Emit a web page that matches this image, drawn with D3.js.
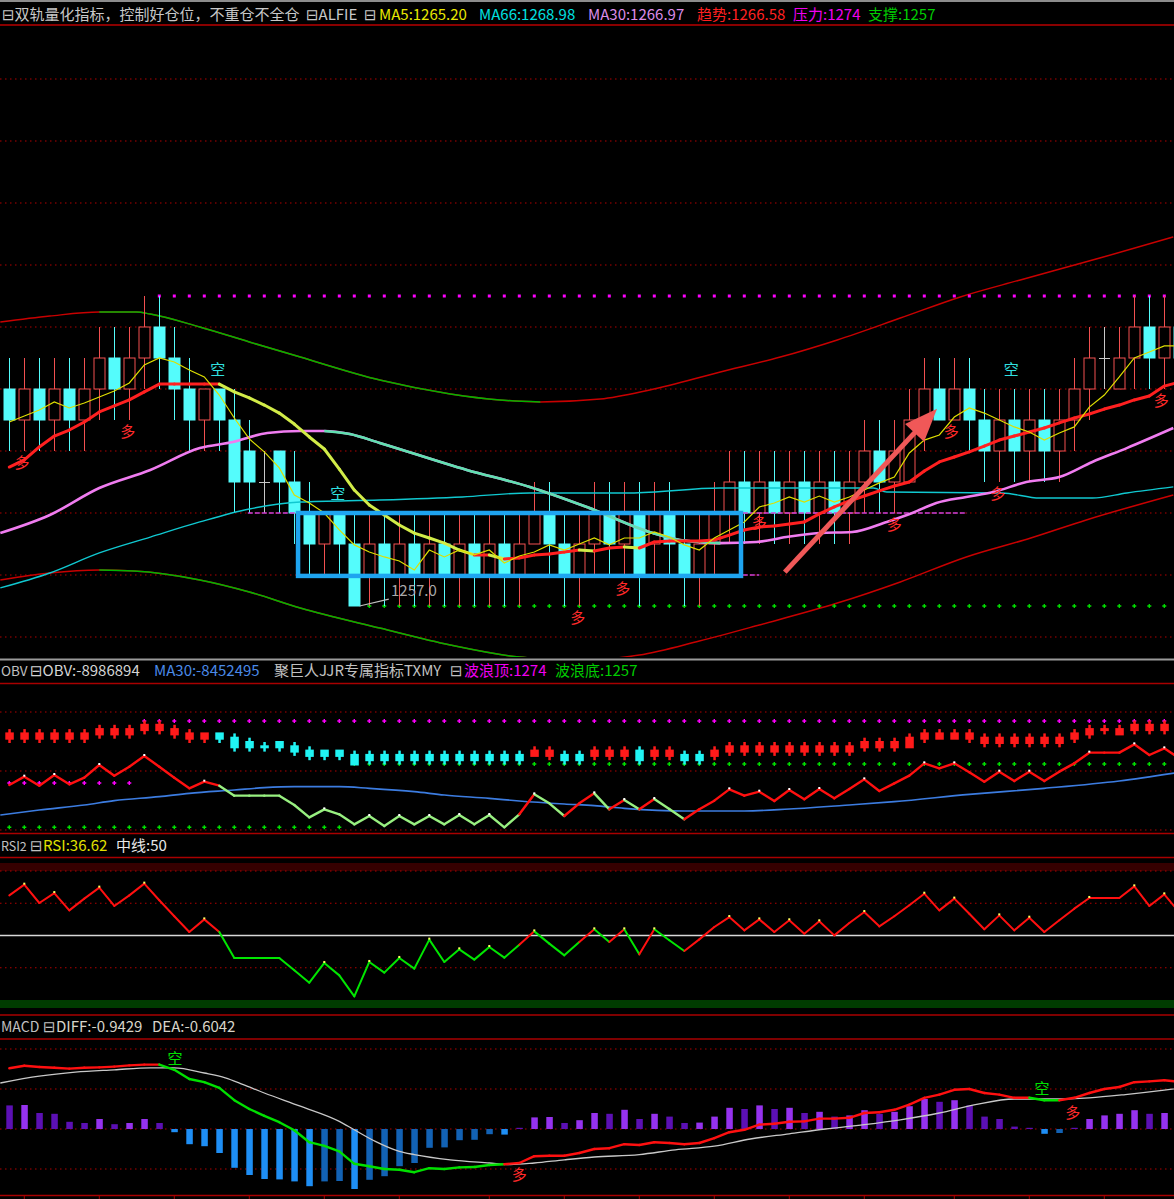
<!DOCTYPE html>
<html>
<head>
<meta charset="utf-8">
<title>双轨量化指标</title>
<script src="https://cdn.jsdelivr.net/npm/d3@7/dist/d3.min.js"></script>
<style>
  body { margin: 0; background: #000; overflow: hidden; }
  svg { display: block; }
  text { font-family: "Noto Sans CJK SC", "Noto Sans", "DejaVu Sans", sans-serif; }
</style>
</head>
<body>
<script>
// ---------- data (candle index 0..78) ----------
const openPrice = [
  1268.9, 1267.2, 1268.9, 1267.2, 1268.9, 1267.2, 1268.9, 1270.6, 1268.9, 1270.6,
  1272.3, 1270.6, 1268.9, 1267.2, 1268.9, 1267.2, 1265.5, 1263.8, 1265.5, 1263.8,
  1262.1, 1260.4, 1262.1, 1260.4, 1258.7, 1260.4, 1258.7, 1260.4, 1258.7, 1260.4,
  1258.7, 1260.4, 1258.7, 1260.4, 1258.7, 1260.4, 1262.1, 1260.4, 1258.7, 1260.4,
  1262.1, 1260.4, 1262.1, 1260.4, 1262.1, 1260.4, 1258.7, 1260.4, 1262.1, 1263.8,
  1262.1, 1263.8, 1262.1, 1263.8, 1262.1, 1263.8, 1262.1, 1263.8, 1265.5, 1263.8,
  1263.8, 1267.2, 1268.9, 1267.2, 1268.9, 1267.2, 1265.5, 1267.2, 1265.5, 1267.2,
  1265.5, 1267.2, 1268.9, 1270.6, 1268.9, 1270.6, 1272.3, 1270.6, 1272.3
];
const closePrice = [
  1267.2, 1268.9, 1267.2, 1268.9, 1267.2, 1268.9, 1270.6, 1268.9, 1270.6, 1272.3,
  1270.6, 1268.9, 1267.2, 1268.9, 1267.2, 1263.8, 1263.8, 1263.8, 1263.8, 1262.1,
  1260.4, 1262.1, 1260.4, 1257.0, 1260.4, 1258.7, 1260.4, 1258.7, 1260.4, 1258.7,
  1260.4, 1258.7, 1260.4, 1258.7, 1260.4, 1262.1, 1260.4, 1258.7, 1260.4, 1262.1,
  1260.4, 1262.1, 1258.7, 1262.1, 1260.4, 1258.7, 1260.4, 1262.1, 1263.8, 1262.1,
  1263.8, 1262.1, 1263.8, 1262.1, 1263.8, 1262.1, 1263.8, 1265.5, 1263.8, 1265.5,
  1267.2, 1268.9, 1267.2, 1268.9, 1267.2, 1265.5, 1267.2, 1265.5, 1267.2, 1265.5,
  1267.2, 1268.9, 1270.6, 1270.6, 1270.6, 1272.3, 1270.6, 1272.3, 1270.6
];
const highPrice = [
  1270.6, 1270.6, 1270.6, 1270.6, 1270.6, 1270.6, 1272.3, 1272.3, 1272.3, 1274.0,
  1274.0, 1272.3, 1270.6, 1268.9, 1268.9, 1268.9, 1267.2, 1265.5, 1265.5, 1265.5,
  1263.8, 1262.1, 1262.1, 1262.1, 1262.1, 1262.1, 1262.1, 1262.1, 1262.1, 1262.1,
  1262.1, 1262.1, 1262.1, 1262.1, 1262.1, 1263.8, 1263.8, 1262.1, 1262.1, 1263.8,
  1263.8, 1263.8, 1263.8, 1263.8, 1263.8, 1262.1, 1262.1, 1263.8, 1265.5, 1265.5,
  1265.5, 1265.5, 1265.5, 1265.5, 1265.5, 1265.5, 1265.5, 1267.2, 1267.2, 1267.2,
  1268.9, 1270.6, 1270.6, 1270.6, 1270.6, 1268.9, 1268.9, 1268.9, 1268.9, 1268.9,
  1268.9, 1270.6, 1272.3, 1272.3, 1272.3, 1274.0, 1274.0, 1274.0, 1274.0
];
const lowPrice = [
  1265.5, 1265.5, 1265.5, 1265.5, 1265.5, 1265.5, 1267.2, 1267.2, 1267.2, 1268.9,
  1268.9, 1267.2, 1265.5, 1265.5, 1265.5, 1262.1, 1262.1, 1262.1, 1262.1, 1260.4,
  1258.7, 1258.7, 1258.7, 1257.0, 1257.0, 1257.0, 1257.0, 1257.0, 1257.0, 1257.0,
  1257.0, 1257.0, 1257.0, 1257.0, 1257.0, 1260.4, 1258.7, 1257.0, 1257.0, 1258.7,
  1258.7, 1258.7, 1257.0, 1258.7, 1258.7, 1257.0, 1257.0, 1258.7, 1260.4, 1260.4,
  1260.4, 1260.4, 1260.4, 1260.4, 1260.4, 1260.4, 1260.4, 1262.1, 1262.1, 1262.1,
  1263.8, 1265.5, 1267.2, 1267.2, 1265.5, 1263.8, 1263.8, 1263.8, 1263.8, 1263.8,
  1263.8, 1265.5, 1267.2, 1268.9, 1268.9, 1268.9, 1268.9, 1268.9, 1268.9
];

// thick trend line (趋势) and MA5, one value per candle
const trendLine = [
  1264.62, 1265.01, 1265.72, 1266.32, 1266.65, 1267.09, 1267.64, 1267.97, 1268.30, 1268.74,
  1269.17, 1269.17, 1269.17, 1269.17, 1269.17, 1268.74, 1268.41, 1268.02, 1267.58, 1266.98,
  1266.27, 1265.61, 1264.51, 1263.36, 1262.54, 1261.99, 1261.44, 1261.00, 1260.73, 1260.45,
  1260.07, 1259.80, 1259.80, 1259.58, 1259.63, 1259.80, 1259.85, 1259.96, 1260.07, 1260.02,
  1260.18, 1260.24, 1260.18, 1260.51, 1260.56, 1260.56, 1260.56, 1260.62, 1260.89, 1261.17,
  1261.33, 1261.39, 1261.50, 1261.61, 1262.05, 1262.43, 1262.76, 1263.03, 1263.31, 1263.58,
  1263.80, 1264.40, 1264.90, 1265.17, 1265.45, 1265.77, 1266.10, 1266.32, 1266.54, 1266.76,
  1267.04, 1267.31, 1267.53, 1267.80, 1268.02, 1268.30, 1268.52, 1269.06, 1269.28
];
const ma5 = [
  1267.09, 1267.42, 1267.75, 1268.19, 1267.86, 1268.13, 1268.46, 1268.79, 1269.23, 1270.22,
  1270.60, 1270.38, 1269.94, 1269.56, 1268.57, 1267.31, 1266.16, 1265.45, 1264.57, 1263.09,
  1262.65, 1262.10, 1261.17, 1260.35, 1259.96, 1259.69, 1259.47, 1258.97, 1260.07, 1259.69,
  1260.07, 1259.80, 1260.07, 1259.36, 1259.74, 1259.96, 1260.35, 1260.07, 1260.40, 1260.73,
  1260.35, 1260.73, 1260.73, 1261.06, 1260.78, 1260.35, 1260.07, 1260.73, 1261.17, 1261.61,
  1262.43, 1262.65, 1262.98, 1262.70, 1263.03, 1262.70, 1262.98, 1263.36, 1263.75, 1264.07,
  1265.39, 1266.10, 1266.38, 1267.36, 1267.86, 1267.58, 1267.20, 1266.82, 1266.54, 1266.10,
  1266.49, 1266.82, 1267.91, 1268.57, 1269.56, 1270.60, 1270.93, 1271.26, 1271.26
];

// smooth lines, read at a few candle positions: [index, price]
const upperBand = [[-0.6,1272.57],[2.7,1272.90],[6,1273.12],[8.5,1273.12],[9.4,1273.01],[12.7,1272.30],[16,1271.48],[19.4,1270.65],[24.7,1269.39],[29.4,1268.63],[32.7,1268.30],[35.4,1268.19],[39.4,1268.35],[42.7,1268.85],[47.4,1269.83],[51.4,1270.65],[55.2,1271.59],[59.4,1272.79],[63.4,1273.95],[67.4,1274.88],[72.7,1276.08],[77.6,1277.24]];
const lowerBand = [[-0.6,1258.43],[2.7,1258.81],[6,1258.97],[8.3,1258.92],[12.7,1258.43],[16,1257.77],[19.4,1256.89],[24.7,1255.79],[29.4,1254.86],[34,1254.20],[38,1254.04],[42,1254.31],[46,1255.08],[50,1255.96],[55.2,1257.16],[59.4,1258.32],[63.8,1259.69],[68.1,1260.73],[71.8,1261.72],[77.6,1263.09]];
const ma66 = [[-0.6,1257.99],[2.7,1258.81],[6,1259.91],[9.4,1260.78],[12.7,1261.61],[16,1262.32],[19.4,1262.70],[24.7,1262.81],[30.2,1262.98],[34.7,1263.20],[41.4,1263.20],[47.4,1263.47],[57.6,1263.47],[58.5,1263.25],[66.2,1263.20],[68.7,1262.92],[72.2,1262.92],[74.5,1263.20],[77.6,1263.53]];
const ma30 = [[-0.6,1261.00],[2.7,1261.99],[6,1263.47],[9.4,1264.46],[12.7,1265.66],[14.9,1265.99],[17.2,1266.49],[19.4,1266.60],[21,1266.60],[22.7,1266.43],[24.7,1265.94],[30.5,1264.46],[34.7,1263.53],[38.5,1262.43],[42.9,1261.00],[44.7,1260.62],[47.4,1260.45],[49.8,1260.51],[51.8,1260.78],[54,1261.00],[56.2,1261.06],[58.5,1261.61],[60.2,1262.10],[61.8,1262.65],[63.8,1262.98],[65.6,1263.25],[67.8,1263.80],[70,1264.07],[72.2,1264.90],[74.5,1265.66],[77.6,1266.76]];
const bandGreenSpan = [6, 38];
const ma30FallSpan = [21, 47.4];

const gridPrices = [1255.3, 1258.7, 1262.1, 1265.5, 1268.9, 1272.3, 1275.7, 1279.1, 1282.5, 1285.9];
const pressure = 1274, support = 1257;
const pressureFrom = 10, supportFrom = 24, dotsTo = 77;
const levelSegments = [[15.9, 19.05, 1262.1], [48.9, 63.85, 1262.1], [48.9, 50, 1258.7]];

const longSignals = [[0.85,1264.90],[7.9,1266.65],[37.9,1256.40],[40.9,1258.04],[50,1261.66],[59,1261.55],[62.8,1266.60],[65.9,1263.20],[76.8,1268.30]];
const shortSignals = [[13.9,1270.05],[21.9,1263.25],[66.8,1270.05]];
const lowLabel = { text: "1257.0", from: [23.35, 1257.0], to: [25.3, 1257.38], at: [25.45, 1257.55] };
const boxRange = { i0: 19.25, i1: 48.78, p0: 1258.65, p1: 1262.1 };
const arrowFrom = [51.7, 1258.86], arrowTo = [61.85, 1267.82];

// OBV panel (万)
const obv = [
  -979, -954, -981, -949, -977, -957, -919, -951, -924, -892,
  -924, -957, -989, -969, -981, -1011, -1011, -1011, -1011, -1039,
  -1076, -1052, -1067, -1097, -1072, -1102, -1072, -1097, -1072, -1097,
  -1069, -1097, -1069, -1106, -1067, -1007, -1034, -1072, -1034, -1004,
  -1052, -1024, -1052, -1021, -1051, -1082, -1052, -1026, -992, -1011,
  -999, -1027, -994, -1022, -991, -1019, -991, -962, -997, -974,
  -951, -914, -929, -914, -941, -969, -939, -967, -939, -967,
  -939, -914, -882, -882, -882, -857, -889, -869, -899
];
const obvMa30 = [[-0.6,-1069],[2,-1054],[5,-1039],[7,-1026],[10,-1014],[12,-1004],[15,-994],[17,-987],[19,-984],[22,-984],[24,-989],[27,-999],[29,-1009],[32,-1019],[34,-1027],[37,-1036],[39,-1041],[41,-1049],[45,-1057],[49,-1057],[52,-1051],[56,-1039],[59,-1029],[64,-1007],[69,-989],[74,-967],[78,-941]];
const obvGreenSpans = [[14,34],[35,37],[39,40],[41,42],[43,45]];
const obvGrid = [-760, -937, -1114];
// TXMY: 1 = red, 0 = cyan
const txmyTrend = [
  1,1,1,1,1,1,1,1,1,1, 1,1,1,1,0,0,0,0,0,0,
  0,0,0,0,0,0,0,0,0,0, 0,0,0,0,0,1,1,0,0,1,
  1,1,0,1,1,0,0,1,1,1, 1,1,1,1,1,1,1,1,1,1,
  1,1,1,1,1,1,1,1,1,1, 1,1,1,1,1,1,1,1,1
];
const waveTop = { early: 1249.5, earlyTo: 8, late: 1274 };
const waveBottom = { early: 1232, earlyTo: 22, late: 1257 };

// RSI panel
const rsi = [
  81.1, 89.4, 75.2, 82.9, 69.5, 78.6, 87.1, 72.9, 81.1, 90.2,
  77.3, 64.9, 52.7, 62.5, 52.7, 32.6, 32.6, 32.6, 32.6, 23.0,
  13.4, 28.7, 19.1, 2.8, 29.5, 21.2, 32.6, 24.3, 46.8, 29.5,
  39.3, 31.3, 41.1, 32.8, 42.9, 53.2, 43.7, 34.6, 45.0, 54.8,
  45.0, 54.8, 35.4, 54.8, 46.3, 38.0, 47.0, 56.6, 64.3, 54.0,
  62.5, 52.7, 61.8, 51.4, 61.0, 50.1, 59.7, 68.2, 57.1, 64.9,
  73.4, 82.4, 69.5, 78.6, 66.9, 54.8, 65.6, 54.0, 63.8, 52.7,
  61.8, 70.8, 79.1, 79.1, 79.1, 88.1, 72.9, 81.9, 68.0
];
const rsiGreenSpans = [[14,34],[35,38],[39,40],[41,42],[43,45]];
const rsiGrid = [100, 75, 25];

// MACD panel
const diff = [
  1.52, 1.58, 1.55, 1.53, 1.51, 1.53, 1.54, 1.56, 1.59, 1.61,
  1.61, 1.48, 1.25, 1.17, 1.03, 0.72, 0.50, 0.33, 0.17, -0.03,
  -0.33, -0.42, -0.56, -0.87, -0.93, -1.00, -1.02, -1.08, -0.98, -1.00,
  -0.96, -0.95, -0.90, -0.88, -0.85, -0.68, -0.67, -0.67, -0.60, -0.50,
  -0.48, -0.38, -0.40, -0.33, -0.35, -0.38, -0.35, -0.23, -0.08, -0.02,
  0.11, 0.13, 0.18, 0.19, 0.26, 0.26, 0.28, 0.40, 0.42, 0.48,
  0.61, 0.78, 0.86, 0.98, 1.00, 0.90, 0.86, 0.78, 0.78, 0.72,
  0.72, 0.78, 0.90, 1.00, 1.05, 1.17, 1.19, 1.22, 1.18
];
const dea = [[-0.6,1.15],[2,1.32],[4.4,1.42],[7,1.48],[9.4,1.53],[11,1.53],[13,1.40],[14.4,1.28],[15.6,1.11],[17,0.90],[19.4,0.57],[22,0.19],[23,-0.02],[24.4,-0.31],[26,-0.56],[27,-0.64],[29.4,-0.77],[32,-0.85],[33.4,-0.89],[35,-0.85],[37,-0.77],[39,-0.70],[42,-0.64],[44.4,-0.52],[47,-0.43],[49.4,-0.25],[52,-0.12],[54.4,0.00],[57,0.11],[59.4,0.23],[62,0.40],[64.4,0.61],[67,0.75],[69.4,0.75],[72,0.78],[74.4,0.86],[77,0.97],[78.6,1.05]];
const macdHist = [
  0.59, 0.60, 0.40, 0.38, 0.18, 0.15, 0.25, 0.12, 0.15, 0.25,
  0.15, -0.08, -0.38, -0.43, -0.60, -0.97, -1.15, -1.25, -1.26, -1.31,
  -1.43, -1.31, -1.30, -1.50, -1.27, -1.18, -0.93, -0.85, -0.47, -0.46,
  -0.28, -0.27, -0.13, -0.14, 0.03, 0.29, 0.30, 0.15, 0.22, 0.40,
  0.38, 0.48, 0.25, 0.38, 0.31, 0.15, 0.16, 0.31, 0.53, 0.50,
  0.59, 0.50, 0.53, 0.40, 0.43, 0.31, 0.34, 0.47, 0.38, 0.43,
  0.57, 0.75, 0.68, 0.72, 0.59, 0.31, 0.25, 0.06, 0.03, -0.12,
  -0.10, 0.03, 0.25, 0.34, 0.38, 0.47, 0.38, 0.40, 0.40
];
const diffGreenSpans = [[10,33],[68,70]];
const macdGrid = [2, 1, 0, -1];
const macdShort = [[11.05,1.80],[68.85,1.05]];
const macdLong = [[34,-1.10],[70.9,0.43]];
const timeTicks = [1,6,11,16,21,26,32,37,42,47,52,57,63,68,73];

// header texts
const mainHeader = ["⊟双轨量化指标，控制好仓位，不重仓不全仓", "⊟ALFIE", "⊟", "MA5:1265.20", "MA66:1268.98", "MA30:1266.97", "趋势:1266.58", "压力:1274", "支撑:1257"];
const obvHeader = ["OBV", "⊟OBV:-8986894", "MA30:-8452495", "聚巨人JJR专属指标TXMY", "⊟", "波浪顶:1274", "波浪底:1257"];
const rsiHeader = ["RSI2", "⊟", "RSI:36.62", "中线:50"];
const macdHeader = ["MACD", "⊟", "DIFF:-0.9429", "DEA:-0.6042"];

// ---------- layout ----------
const W = 1174, H = 1199;
const CYAN = "#54fcfc", GRID = "#b00000";

const svg = d3.select("body").append("svg")
  .attr("width", W).attr("height", H)
  .style("background", "#000");
const defs = svg.append("defs");

function panel(id, y0, y1) {
  defs.append("clipPath").attr("id", id).append("rect")
    .attr("x", 0).attr("y", y0).attr("width", W).attr("height", y1 - y0);
  return svg.append("g").attr("clip-path", `url(#${id})`);
}

const x = d3.scaleLinear().domain([0, 78]).range([9.3, 1179.3]);
const yMain = d3.scaleLinear().domain([1257, 1274]).range([606, 296]);
const yTx = d3.scaleLinear().domain([1257, 1274]).range([764, 721]);
const yObv = d3.scaleLinear().domain([-1129, -589]).range([835, 655]);
const yRsi = d3.scaleLinear().domain([0, 100]).range([1000, 871]);
const yMacd = d3.scaleLinear().domain([-1, 2]).range([1169, 1049]);

const idx = d3.range(openPrice.length);

function hDotted(g, yy) {
  g.append("line").attr("x1", 0).attr("x2", W).attr("y1", yy).attr("y2", yy)
    .attr("stroke", GRID).attr("stroke-width", 1.2).attr("stroke-dasharray", "1.5,3.5");
}
function inSpans(i, spans) { return spans.some(([a, b]) => i >= a && i < b); }

function segments(g, vals, yS, colorOf, width) {
  const segs = d3.range(vals.length - 1).map((i) => ({ i, a: vals[i], b: vals[i + 1] }));
  g.append("g").selectAll("line").data(segs).join("line")
    .attr("x1", (d) => x(d.i)).attr("x2", (d) => x(d.i + 1))
    .attr("y1", (d) => yS(d.a)).attr("y2", (d) => yS(d.b))
    .attr("stroke", colorOf).attr("stroke-width", width).attr("stroke-linecap", "round");
}
function curve(g, pts, yS, color, width) {
  const line = d3.line().x((d) => x(d[0])).y((d) => yS(d[1])).curve(d3.curveMonotoneX);
  g.append("path").attr("d", line(pts)).attr("fill", "none")
    .attr("stroke", color).attr("stroke-width", width);
}
function peakDots(g, vals, yS, color) {
  const peaks = idx.filter((i) => i > 0 && i < vals.length - 1 && vals[i] > vals[i - 1] && vals[i] >= vals[i + 1]);
  g.append("g").selectAll("rect").data(peaks).join("rect")
    .attr("x", (i) => x(i) - 1).attr("y", (i) => yS(vals[i]) - 2)
    .attr("width", 2).attr("height", 2).attr("fill", color);
}

// ---------- frame ----------
const frame = svg.append("g");
[[1, "#8c8c8c", 2], [25, "#8a0000", 2], [659.5, "#9a9a9a", 2], [683.5, "#a80000", 1.5],
 [833.5, "#a80000", 1.5], [857.5, "#a80000", 1.5], [1015, "#a80000", 1.5],
 [1039, "#a80000", 1.5], [1195.5, "#a80000", 1.5]].forEach(([yy, c, w]) => {
  frame.append("line").attr("x1", 0).attr("x2", W).attr("y1", yy).attr("y2", yy)
    .attr("stroke", c).attr("stroke-width", w);
});

// each part: [x, colour, font size]
function header(parts, specs, baseline) {
  const t = svg.append("text").attr("y", baseline);
  parts.forEach((s, k) => t.append("tspan")
    .attr("x", specs[k][0]).attr("fill", specs[k][1]).attr("font-size", specs[k][2] || 15).text(s));
}
header(mainHeader,
  [[2, "#c8c8c8"], [306, "#c8c8c8"], [364, "#c8c8c8"], [379, "#e8e800"], [479, "#00e0e0"],
   [588, "#dc8ce8"], [697, "#ff2020"], [793, "#f000f0"], [868, "#00cc00"]], 19.5);
header(obvHeader,
  [[1, "#c0c0c0", 13.5], [30, "#d4d4d4"], [154, "#4a8ae8"], [274, "#c0c0c0"],
   [450, "#c0c0c0"], [464, "#f000f0"], [555, "#00cc00"]], 675.5);
header(rsiHeader, [[1, "#c0c0c0", 12.5], [30, "#c0c0c0"], [43, "#e0e000"], [116, "#e8e8e8"]], 851);
header(macdHeader, [[1, "#c0c0c0", 14], [43, "#c0c0c0"], [56, "#d8d4c8"], [152, "#d8d4c8"]], 1032);

// ---------- main panel ----------
const gMain = panel("c-main", 26, 657);
gridPrices.forEach((p) => hDotted(gMain, yMain(p)));

// channel bands
curve(gMain, upperBand, yMain, "#c80000", 1.5);
curve(gMain, upperBand.filter((d) => d[0] >= bandGreenSpan[0] && d[0] <= bandGreenSpan[1]), yMain, "#00b400", 1.5);
curve(gMain, lowerBand, yMain, "#c80000", 1.5);
curve(gMain, lowerBand.filter((d) => d[0] >= bandGreenSpan[0] && d[0] <= bandGreenSpan[1]), yMain, "#00b400", 1.5);

// pressure / support dots
const pDots = idx.filter((i) => i >= pressureFrom && i <= dotsTo);
gMain.append("g").selectAll("rect").data(pDots).join("rect")
  .attr("x", (i) => x(i) - 1.5).attr("y", yMain(pressure) - 1.5)
  .attr("width", 3).attr("height", 3).attr("fill", "#ff00ff");
const sDots = idx.filter((i) => i >= supportFrom && i <= dotsTo);
gMain.append("g").selectAll("path").data(sDots).join("path")
  .attr("d", (i) => `M${x(i) - 2},${yMain(support)}h4M${x(i)},${yMain(support) - 2}v4`)
  .attr("stroke", "#00e000").attr("stroke-width", 1.3);

// candles
const candle = gMain.append("g").selectAll("g").data(idx).join("g");
const candleColor = (i) => closePrice[i] > openPrice[i] ? "#f25050" : closePrice[i] < openPrice[i] ? CYAN : "#c8c8c8";
candle.append("line")
  .attr("x1", (i) => Math.round(x(i)) + 0.5).attr("x2", (i) => Math.round(x(i)) + 0.5)
  .attr("y1", (i) => yMain(highPrice[i])).attr("y2", (i) => yMain(lowPrice[i]))
  .attr("stroke", candleColor).attr("stroke-width", 1);
candle.append("rect")
  .attr("x", (i) => Math.round(x(i)) - 5)
  .attr("y", (i) => yMain(Math.max(openPrice[i], closePrice[i])))
  .attr("width", 11)
  .attr("height", (i) => Math.max(1, yMain(Math.min(openPrice[i], closePrice[i])) - yMain(Math.max(openPrice[i], closePrice[i]))))
  .attr("fill", (i) => closePrice[i] < openPrice[i] ? CYAN : closePrice[i] > openPrice[i] ? "#000" : "#c8c8c8")
  .attr("stroke", candleColor).attr("stroke-width", (i) => closePrice[i] === openPrice[i] ? 0 : 1);

// level segments
levelSegments.forEach(([a, b, p]) => {
  gMain.append("line").attr("x1", x(a)).attr("x2", x(b)).attr("y1", yMain(p)).attr("y2", yMain(p))
    .attr("stroke", "#d040d8").attr("stroke-width", 1.5).attr("stroke-dasharray", "5,2");
});

// moving averages
curve(gMain, ma66, yMain, "#10c8d0", 1.4);
curve(gMain, ma30, yMain, "#f07cf0", 2.6);
curve(gMain, ma30.filter((d) => d[0] >= ma30FallSpan[0] && d[0] <= ma30FallSpan[1]), yMain, "#60e0b0", 2.6);
segments(gMain, trendLine, yMain, (d) => d.b >= d.a ? "#ff2020" : "#d2ec48", 3);
gMain.append("path")
  .attr("d", d3.line().x((i) => x(i)).y((i) => yMain(ma5[i]))(idx))
  .attr("fill", "none").attr("stroke", "#dede00").attr("stroke-width", 1.2);

// low label
gMain.append("line").attr("x1", x(lowLabel.from[0])).attr("y1", yMain(lowLabel.from[1]))
  .attr("x2", x(lowLabel.to[0])).attr("y2", yMain(lowLabel.to[1]))
  .attr("stroke", "#c0c0c0").attr("stroke-width", 1.2);
gMain.append("text").attr("x", x(lowLabel.at[0])).attr("y", yMain(lowLabel.at[1]))
  .attr("font-size", 15).attr("fill", "#a8a8a8").text(lowLabel.text);

// signals
gMain.append("g").selectAll("text").data(longSignals).join("text")
  .attr("x", (d) => x(d[0])).attr("y", (d) => yMain(d[1]))
  .attr("text-anchor", "middle").attr("dominant-baseline", "central")
  .attr("font-size", 15).attr("fill", "#ff2a2a").text("多");
gMain.append("g").selectAll("text").data(shortSignals).join("text")
  .attr("x", (d) => x(d[0])).attr("y", (d) => yMain(d[1]))
  .attr("text-anchor", "middle").attr("dominant-baseline", "central")
  .attr("font-size", 15).attr("fill", "#30e0e0").text("空");

// box and arrow annotations
gMain.append("rect")
  .attr("x", x(boxRange.i0)).attr("y", yMain(boxRange.p1))
  .attr("width", x(boxRange.i1) - x(boxRange.i0)).attr("height", yMain(boxRange.p0) - yMain(boxRange.p1))
  .attr("fill", "none").attr("stroke", "#1ea4f0").attr("stroke-width", 4.5);
{
  const x0 = x(arrowFrom[0]), y0 = yMain(arrowFrom[1]), x1 = x(arrowTo[0]), y1 = yMain(arrowTo[1]);
  const len = Math.hypot(x1 - x0, y1 - y0), ux = (x1 - x0) / len, uy = (y1 - y0) / len;
  const hl = 33, hw = 13, bx = x1 - ux * hl, by = y1 - uy * hl;
  gMain.append("line").attr("x1", x0).attr("y1", y0).attr("x2", bx + ux * 4).attr("y2", by + uy * 4)
    .attr("stroke", "#f05858").attr("stroke-width", 5);
  gMain.append("path")
    .attr("d", `M${x1},${y1}L${bx - uy * hw},${by + ux * hw}L${bx + uy * hw},${by - ux * hw}Z`)
    .attr("fill", "#f05858");
}

// ---------- OBV / TXMY panel ----------
const gObv = panel("c-obv", 685, 833);
obvGrid.forEach((v) => hDotted(gObv, yObv(v)));

const topVal = (i) => i <= waveTop.earlyTo ? waveTop.early : waveTop.late;
const botVal = (i) => i <= waveBottom.earlyTo ? waveBottom.early : waveBottom.late;
const crossDot = (g, arr, yf, color) => g.append("g").selectAll("path").data(arr).join("path")
  .attr("d", (i) => `M${x(i) - 2},${yf(i)}h4M${x(i)},${yf(i) - 2}v4`)
  .attr("stroke", color).attr("stroke-width", 1.4);
crossDot(gObv, idx.slice(0, 78), (i) => yTx(topVal(i)), "#ff00ff");
crossDot(gObv, idx.slice(0, 78), (i) => yTx(botVal(i)), "#00e000");

const glyph = gObv.append("g").selectAll("g").data(idx).join("g")
  .attr("fill", (i) => txmyTrend[i] ? "#ff1a1a" : "#20f4f4");
glyph.append("rect")
  .attr("x", (i) => x(i) - 1).attr("width", 2.5)
  .attr("y", (i) => yTx(highPrice[i]) - 0.5).attr("height", (i) => yTx(lowPrice[i]) - yTx(highPrice[i]) + 1);
glyph.append("rect")
  .attr("x", (i) => x(i) - 4).attr("width", 8.5)
  .attr("y", (i) => yTx(Math.max(openPrice[i], closePrice[i])) - 1.5)
  .attr("height", (i) => Math.max(2.5, yTx(Math.min(openPrice[i], closePrice[i])) - yTx(Math.max(openPrice[i], closePrice[i])) + 3));

curve(gObv, obvMa30, yObv, "#3c7ce0", 1.6);
segments(gObv, obv, yObv, (d) => inSpans(d.i, obvGreenSpans) ? "#98f080" : "#ff1010", 2.4);
peakDots(gObv, obv, yObv, "#ffffff");

// ---------- RSI panel ----------
const gRsi = panel("c-rsi", 858, 1012);
gRsi.append("rect").attr("x", 0).attr("width", W).attr("y", 863).attr("height", yRsi(100) - 863).attr("fill", "#360000");
gRsi.append("rect").attr("x", 0).attr("width", W).attr("y", yRsi(0)).attr("height", 8).attr("fill", "#003c00");
rsiGrid.forEach((v) => hDotted(gRsi, yRsi(v)));
gRsi.append("line").attr("x1", 0).attr("x2", W).attr("y1", yRsi(50)).attr("y2", yRsi(50))
  .attr("stroke", "#d8d8d8").attr("stroke-width", 1.5);
segments(gRsi, rsi, yRsi, (d) => inSpans(d.i, rsiGreenSpans) ? "#00e600" : "#ff1010", 2);
peakDots(gRsi, rsi, yRsi, "#ffff60");

// ---------- MACD panel ----------
const gMacd = panel("c-macd", 1040, 1195);
macdGrid.forEach((v) => hDotted(gMacd, yMacd(v)));

const histColor = (i) => {
  const v = macdHist[i], p = i > 0 ? macdHist[i - 1] : null;
  let light;
  if (p === null) light = false;
  else if ((v >= 0) === (p >= 0)) light = Math.abs(v) >= Math.abs(p);
  else light = v < 0;
  if (v >= 0) return light ? "#9632ee" : "#5c10b4";
  return light ? "#1e8ef4" : "#1262b4";
};
gMacd.append("g").selectAll("rect").data(idx).join("rect")
  .attr("x", (i) => x(i) - 3).attr("width", 6.5)
  .attr("y", (i) => Math.min(yMacd(0), yMacd(macdHist[i])))
  .attr("height", (i) => Math.max(1, Math.abs(yMacd(macdHist[i]) - yMacd(0))))
  .attr("fill", histColor);

curve(gMacd, dea, yMacd, "#c8c8c8", 1.3);
segments(gMacd, diff, yMacd, (d) => inSpans(d.i, diffGreenSpans) ? "#00e000" : "#ff1010", 2.4);

gMacd.append("g").selectAll("text").data(macdShort).join("text")
  .attr("x", (d) => x(d[0])).attr("y", (d) => yMacd(d[1]))
  .attr("text-anchor", "middle").attr("dominant-baseline", "central")
  .attr("font-size", 15).attr("fill", "#00e000").text("空");
gMacd.append("g").selectAll("text").data(macdLong).join("text")
  .attr("x", (d) => x(d[0])).attr("y", (d) => yMacd(d[1]))
  .attr("text-anchor", "middle").attr("dominant-baseline", "central")
  .attr("font-size", 15).attr("fill", "#ff2a2a").text("多");

svg.append("g").selectAll("line").data(timeTicks).join("line")
  .attr("x1", (i) => x(i)).attr("x2", (i) => x(i)).attr("y1", 1196).attr("y2", 1199)
  .attr("stroke", "#a80000").attr("stroke-width", 1);
</script>
</body>
</html>
